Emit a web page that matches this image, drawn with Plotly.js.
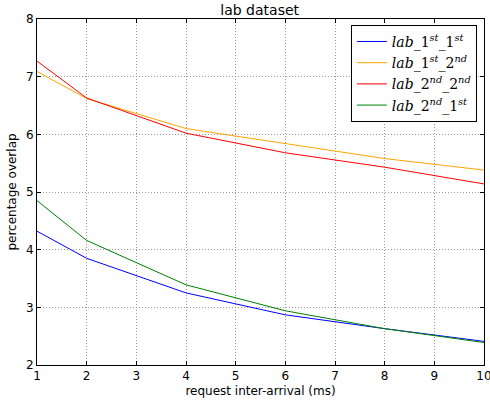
<!DOCTYPE html>
<html><head><meta charset="utf-8">
<script src="https://cdn.plot.ly/plotly-3.0.1.min.js"></script>
<style>html,body{margin:0;padding:0;background:#fff}#c{width:490px;height:405px}</style>
</head><body><div id="c"></div>
<script>
const xs = [1, 2, 4, 6, 8, 10];
const lab11 = [4.32, 3.85, 3.25, 2.87, 2.63, 2.41];
const lab12 = [7.09, 6.62, 6.10, 5.84, 5.58, 5.38];
const lab22 = [7.27, 6.63, 6.02, 5.68, 5.43, 5.14];
const lab21 = [4.85, 4.16, 3.39, 2.94, 2.63, 2.39];
const names = [
  "<i>lab</i>_1<sup><i>st</i></sup>_1<sup><i>st</i></sup>",
  "<i>lab</i>_1<sup><i>st</i></sup>_2<sup><i>nd</i></sup>",
  "<i>lab</i>_2<sup><i>nd</i></sup>_2<sup><i>nd</i></sup>",
  "<i>lab</i>_2<sup><i>nd</i></sup>_1<sup><i>st</i></sup>"
];
const colors = ["#0000ff", "#ffa500", "#ff0000", "#008000"];
const series = [lab11, lab12, lab22, lab21];
const traces = series.map((ys, i) => ({
  x: xs, y: ys, type: "scatter", mode: "lines", name: names[i],
  line: {color: colors[i], width: 1}
}));
const ax = {
  showline: true, linecolor: "#000", linewidth: 1, mirror: "ticks",
  ticks: "inside", ticklen: 4, tickcolor: "#000",
  showgrid: true, gridcolor: "#999", griddash: "1px,2px", gridwidth: 1,
  zeroline: false, ticklabeloverflow: "allow",
  tickfont: {family: "DejaVu Sans", size: 12, color: "#000"}
};
const layout = {
  width: 490, height: 405,
  margin: {l: 37, r: 6, t: 19, b: 40},
  paper_bgcolor: "#fff", plot_bgcolor: "#fff",
  title: {text: "lab dataset", font: {family: "DejaVu Sans", size: 14, color: "#000"}, x: 0.53, xanchor: "center", y: 0.975, yanchor: "middle"},
  xaxis: Object.assign({}, ax, {range: [1, 10], dtick: 1, title: {text: "request inter-arrival (ms)", font: {family: "DejaVu Sans", size: 12, color: "#000"}, standoff: 4}}),
  yaxis: Object.assign({}, ax, {range: [2, 8], dtick: 1, title: {text: "percentage overlap", font: {family: "DejaVu Sans", size: 12, color: "#000"}, standoff: 6}}),
  showlegend: true,
  legend: {x: 0.984, y: 0.983, xanchor: "right", yanchor: "top", bgcolor: "#fff", bordercolor: "#000", borderwidth: 1,
    font: {family: "DejaVu Serif", size: 14, color: "#000"}, itemwidth: 30, tracegroupgap: 0}
};
Plotly.newPlot("c", traces, layout, {displayModeBar: false, staticPlot: true});
</script></body></html>
